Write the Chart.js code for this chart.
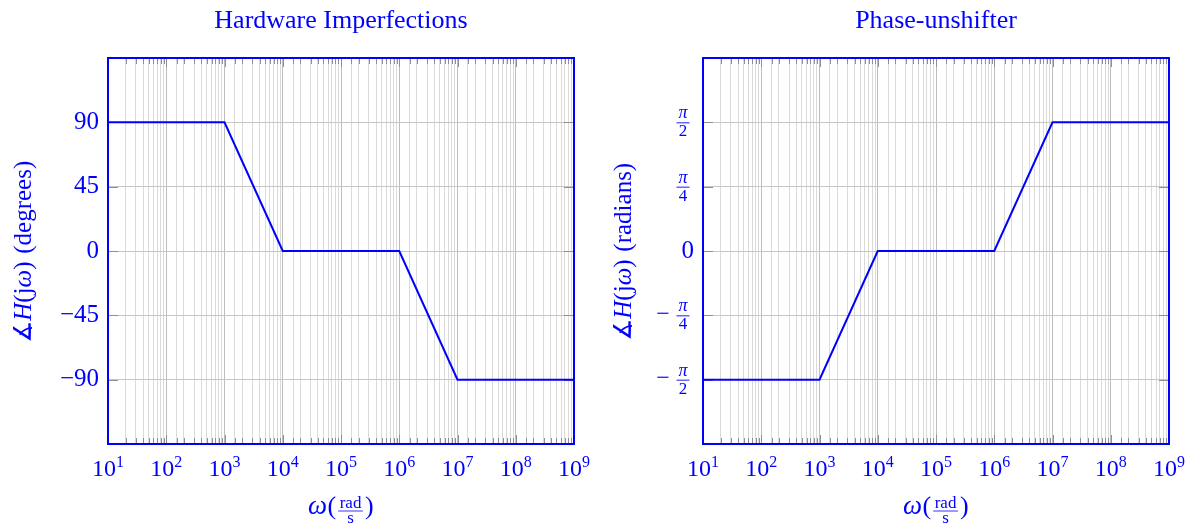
<!DOCTYPE html>
<html><head><meta charset="utf-8">
<script src="https://cdn.jsdelivr.net/npm/chart.js@4"></script>
<style>
html,body{margin:0;padding:0;background:#fff;}
#wrap{position:relative;width:1201px;height:525px;}
.box{position:absolute;top:0;height:525px;}
canvas{display:block;}
</style></head><body>
<div id="wrap">
<div class="box" style="left:0;width:600px"><canvas id="c1" width="600" height="525"></canvas></div>
<div class="box" style="left:600px;width:601px"><canvas id="c2" width="601" height="525"></canvas></div>
</div>
<script>
// ---- data ----
const omega = [10, 1e3, 1e4, 1e6, 1e7, 1e9];
const phaseDegrees = [90, 90, 0, 0, -90, -90];
const phaseRadians = [-Math.PI / 2, -Math.PI / 2, 0, 0, Math.PI / 2, Math.PI / 2];
const xTickExponents = [1, 2, 3, 4, 5, 6, 7, 8, 9];
const xTickBase = '10';
const degTickValues = [-90, -45, 0, 45, 90];
const degTickLabels = ['−90', '−45', '0', '45', '90'];
const radTickValues = [-Math.PI / 2, -Math.PI / 4, 0, Math.PI / 4, Math.PI / 2];
const radTickLabels = ['−π/2', '−π/4', '0', 'π/4', 'π/2'];

const SERIF = '"Liberation Serif", "DejaVu Serif", serif';
const BLUE = '#0000ff';

function isPow10(v) { const l = Math.log10(v); return Math.abs(l - Math.round(l)) < 1e-9; }

function runWidth(ctx, r) {
  ctx.font = r.font;
  let w;
  if (r.frac) w = Math.max(ctx.measureText(r.num).width, ctx.measureText(r.den).width) + 3;
  else w = ctx.measureText(r.t).width;
  return w + (r.gap || 0);
}
function drawRuns(ctx, runs, cx, baseY) {
  const ws = runs.map(r => runWidth(ctx, r));
  const total = ws.reduce((a, b) => a + b, 0);
  let x = cx - total / 2;
  ctx.fillStyle = BLUE; ctx.strokeStyle = BLUE;
  ctx.textBaseline = 'alphabetic';
  runs.forEach((r, i) => {
    const w = ws[i];
    const g = r.gap || 0;
    ctx.font = r.font;
    if (r.frac) {
      const fw = w - g;
      const mid = x + g / 2 + fw / 2;
      const barY = baseY - 3;
      ctx.textAlign = 'center';
      ctx.fillText(r.num, mid, barY - 3);
      ctx.fillText(r.den, mid, barY + 12);
      ctx.lineWidth = 0.8;
      ctx.beginPath(); ctx.moveTo(mid - fw / 2, barY); ctx.lineTo(mid + fw / 2, barY); ctx.stroke();
    } else {
      ctx.textAlign = 'left';
      ctx.fillText(r.t, x + g / 2, baseY + (r.dy || 0));
    }
    x += w;
  });
}

function makeFramePlugin(yTitleWord, fracLabels) {
  return {
    id: 'frame',
    beforeDatasetsDraw(chart) {
      const ctx = chart.ctx, a = chart.chartArea, xs = chart.scales.x, ys = chart.scales.y;
      ctx.save();
      ctx.strokeStyle = '#8f8f8f'; ctx.lineWidth = 1;
      ctx.beginPath();
      xs.ticks.forEach(t => {
        const px = Math.round(xs.getPixelForValue(t.value)) + 0.5;
        const len = isPow10(t.value) ? 9 : 6;
        ctx.moveTo(px, a.bottom); ctx.lineTo(px, a.bottom - len);
        ctx.moveTo(px, a.top); ctx.lineTo(px, a.top + len);
      });
      ys.ticks.forEach(t => {
        const py = Math.round(ys.getPixelForValue(t.value)) + 0.5;
        ctx.moveTo(a.left, py); ctx.lineTo(a.left + 10, py);
        ctx.moveTo(a.right, py); ctx.lineTo(a.right - 10, py);
      });
      ctx.stroke();
      ctx.restore();
    },
    afterDraw(chart) {
      const ctx = chart.ctx, a = chart.chartArea, xs = chart.scales.x, ys = chart.scales.y;
      ctx.save();
      // frame
      ctx.strokeStyle = BLUE; ctx.lineWidth = 2;
      ctx.strokeRect(a.left, a.top, a.right - a.left, a.bottom - a.top);
      // x tick labels: 10^e
      xTickExponents.forEach(e => {
        const px = xs.getPixelForValue(Math.pow(10, e));
        drawRuns(ctx, [
          { t: xTickBase, font: `24px ${SERIF}` },
          { t: String(e), font: `16px ${SERIF}`, dy: -9 }
        ], px, a.bottom + 32);
      });
      // x title
      drawRuns(ctx, [
        { t: 'ω', font: `italic 27px ${SERIF}` },
        { t: '(', font: `26px ${SERIF}`, gap: 1 },
        { frac: true, num: 'rad', den: 's', font: `17px ${SERIF}`, gap: 3 },
        { t: ')', font: `26px ${SERIF}`, gap: 1 }
      ], (a.left + a.right) / 2, 514);
      // y title
      ctx.save();
      ctx.translate(31, (a.top + a.bottom) / 2);
      ctx.rotate(-Math.PI / 2);
      const f = 25;
      drawRuns(ctx, [
        { t: '∡', font: `${f}px ${SERIF}` },
        { t: 'H', font: `italic ${f}px ${SERIF}` },
        { t: '(j', font: `${f}px ${SERIF}` },
        { t: 'ω', font: `italic ${f}px ${SERIF}` },
        { t: ')', font: `${f}px ${SERIF}` },
        { t: ' (' + yTitleWord + ')', font: `${f}px ${SERIF}`, gap: 3 }
      ], 0, 0);
      ctx.restore();
      // fraction tick labels
      if (fracLabels) {
        ctx.fillStyle = BLUE; ctx.strokeStyle = BLUE;
        ys.ticks.forEach((t, i) => {
          const lab = fracLabels[i];
          if (lab.indexOf('/') < 0) return;
          const py = ys.getPixelForValue(t.value);
          let s = lab, neg = false;
          if (s[0] === '−') { neg = true; s = s.slice(1); }
          const [num, den] = s.split('/');
          const cx = a.left - 20;
          ctx.textAlign = 'center'; ctx.textBaseline = 'alphabetic';
          ctx.font = `italic 18px ${SERIF}`;
          ctx.fillText(num, cx, py - 4);
          ctx.font = `17px ${SERIF}`;
          ctx.fillText(den, cx, py + 14);
          ctx.lineWidth = 0.9;
          ctx.beginPath(); ctx.moveTo(cx - 6.5, py + 0.5); ctx.lineTo(cx + 6.5, py + 0.5); ctx.stroke();
          if (neg) {
            ctx.font = `24px ${SERIF}`; ctx.textBaseline = 'middle';
            ctx.fillText('−', a.left - 40, py - 1);
          }
        });
      }
      ctx.restore();
    }
  };
}

function makeChart(id, o) {
  return new Chart(document.getElementById(id), {
    type: 'line',
    data: { datasets: [{
      data: omega.map((x, i) => ({ x: x, y: o.values[i] })),
      borderColor: BLUE, borderWidth: 2, pointRadius: 0, tension: 0, fill: false
    }] },
    options: {
      responsive: false, animation: false,
      layout: { padding: { left: 0, right: o.padRight, top: 0, bottom: 0 } },
      plugins: {
        legend: { display: false }, tooltip: { enabled: false },
        title: { display: true, text: o.title, color: BLUE, fullSize: false,
          font: { family: SERIF, size: 26, weight: 'normal' }, padding: { top: 6, bottom: 20.8 } }
      },
      scales: {
        x: {
          type: 'logarithmic', min: 10, max: 1e9, position: 'bottom',
          afterFit(s) { s.height = 81; },
          grid: { drawTicks: false, lineWidth: 1,
            color: c => (c.tick && isPow10(c.tick.value)) ? '#bdbdbd' : '#dadada' },
          border: { display: false },
          ticks: { autoSkip: false, maxRotation: 0, minRotation: 0, padding: 9, color: BLUE,
            font: { family: SERIF, size: 24 },
            callback() { return ''; } }
        },
        y: {
          type: 'linear', min: o.min, max: o.max,
          afterBuildTicks(s) { s.ticks = o.tickValues.map(v => ({ value: v })); },
          afterFit(s) { s.width = o.yWidth; },
          grid: { drawTicks: false, color: '#c6c6c6', lineWidth: 1 },
          border: { display: false },
          ticks: { padding: 9, color: BLUE, font: { family: SERIF, size: 25 },
            callback: (v, i) => (o.tickLabels[i].indexOf('/') >= 0 ? '' : o.tickLabels[i]) }
        }
      }
    },
    plugins: [makeFramePlugin(o.yWord, o.frac ? o.tickLabels : null)]
  });
}

makeChart('c1', { values: phaseDegrees, title: 'Hardware Imperfections', padRight: 26, yWidth: 108,
  min: -135, max: 135, tickValues: degTickValues, tickLabels: degTickLabels, yWord: 'degrees', frac: false });
makeChart('c2', { values: phaseRadians, title: 'Phase-unshifter', padRight: 32, yWidth: 103,
  min: -3 * Math.PI / 4, max: 3 * Math.PI / 4, tickValues: radTickValues, tickLabels: radTickLabels, yWord: 'radians', frac: true });
</script>
</body></html>
